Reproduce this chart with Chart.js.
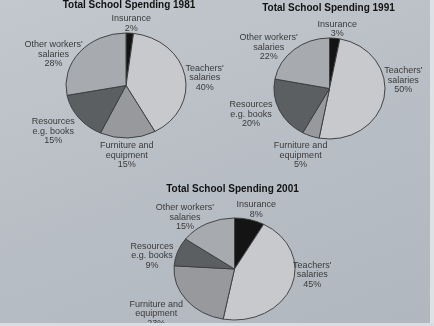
<!DOCTYPE html>
<html>
<head>
<meta charset="utf-8">
<script src="https://cdn.jsdelivr.net/npm/chart.js@4"></script>
<style>
  html, body { margin: 0; padding: 0; }
  body {
    width: 434px; height: 326px; overflow: hidden; position: relative;
    background: linear-gradient(160deg, #c3c8ce 0%, #b7bdc4 55%, #b1b7bf 100%);
  }
  canvas { position: absolute; left: 0; top: 0; }
  .edge-r { position: absolute; right: 0; top: 0; width: 4px; height: 326px; background: #dfe2e5; }
  .edge-b { position: absolute; left: 0; bottom: 0; width: 434px; height: 3px; background: #d9dce0; }
</style>
</head>
<body>
<canvas id="c1981" width="434" height="326"></canvas>
<canvas id="c1991" width="434" height="326"></canvas>
<canvas id="c2001" width="434" height="326"></canvas>
<div class="edge-r"></div>
<div class="edge-b"></div>
<script>
// categories, clockwise from the top
var categories = [
  ['Insurance'],
  ["Teachers'", 'salaries'],
  ['Furniture and', 'equipment'],
  ['Resources', 'e.g. books'],
  ["Other workers'", 'salaries']
];
var spending1981 = [2, 40, 15, 15, 28];
var spending1991 = [3, 50, 5, 20, 22];
var spending2001 = [8, 45, 23, 9, 15];

var sliceColours = ['#141414', '#c7c9cc', '#97999d', '#5c5f62', '#a7aaae'];

// the photo is taken at a slant, so the pies look a bit flattened
var squashPie = {
  id: 'squashPie',
  beforeDatasetsDraw: function(chart, args, opts) {
    var a = chart.getDatasetMeta(0).data[0];
    var ctx = chart.ctx;
    ctx.save();
    ctx.translate(a.x, a.y);
    ctx.scale(1, opts.squash);
    ctx.translate(-a.x, -a.y);
  },
  afterDatasetsDraw: function(chart) {
    chart.ctx.restore();
  }
};

// title and the labels round each pie
var pieText = {
  id: 'pieText',
  afterDraw: function(chart, args, opts) {
    var ctx = chart.ctx;
    var meta = chart.getDatasetMeta(0);
    var data = chart.data.datasets[0].data;
    var sq = chart.options.plugins.squashPie.squash;
    var first = meta.data[0];
    ctx.save();
    ctx.textAlign = 'center';
    ctx.textBaseline = 'middle';

    ctx.fillStyle = '#121212';
    ctx.font = 'bold 10px "Liberation Sans", Arial, sans-serif';
    ctx.fillText(opts.title, first.x + opts.titleShift, first.y - opts.titleOffset);

    ctx.fillStyle = '#3a3a3a';
    ctx.font = '9px "Liberation Sans", Arial, sans-serif';
    var lh = 9.5, gap = 3;
    meta.data.forEach(function(arc, i) {
      var lines = chart.data.labels[i].concat([data[i] + '%']);
      var w = 0;
      lines.forEach(function(t) { w = Math.max(w, ctx.measureText(t).width); });
      var h = lines.length * lh;
      var mid = (arc.startAngle + arc.endAngle) / 2;
      var c = Math.cos(mid), s = Math.sin(mid);
      var nudge = opts.nudge[i];
      var lx = arc.x + c * (arc.outerRadius + gap + w / 2) + nudge[0];
      var ly = arc.y + s * (arc.outerRadius * sq + gap + h / 2) + nudge[1];
      var y0 = ly - (lines.length - 1) * lh / 2;
      lines.forEach(function(t, k) { ctx.fillText(t, lx, y0 + k * lh); });
    });
    ctx.restore();
  }
};

function makePie(id, values, title, cx, cy, radius, squash, titleShift, nudge) {
  var half = 50;
  return new Chart(document.getElementById(id), {
    type: 'pie',
    data: {
      labels: categories,
      datasets: [{
        data: values,
        backgroundColor: sliceColours,
        borderColor: '#3c3c3c',
        borderWidth: 1,
        radius: radius,
        clip: false
      }]
    },
    options: {
      responsive: false,
      animation: false,
      events: [],
      layout: {
        padding: { left: cx - half, right: 434 - cx - half, top: cy - half, bottom: 326 - cy - half }
      },
      plugins: {
        legend: { display: false },
        tooltip: { enabled: false },
        squashPie: { squash: squash },
        pieText: { title: title, titleShift: titleShift, titleOffset: 80, nudge: nudge }
      }
    },
    plugins: [squashPie, pieText]
  });
}

makePie('c1981', spending1981, 'Total School Spending 1981', 126, 85.5, 60, 0.875, 3,
  [[0, 3], [-2, 5.5], [-2, 0], [-6, 3], [-1.5, 13]]);
makePie('c1991', spending1991, 'Total School Spending 1991', 329.5, 88.5, 55.5, 0.91, -1,
  [[0.5, 3], [-2.5, -21], [0, 3], [-6, -3], [-5, 11]]);
makePie('c2001', spending2001, 'Total School Spending 2001', 234.5, 269, 60.5, 0.843, -2,
  [[1, 2], [0, -17.5], [-7, 3], [-2.5, 10], [-7.5, 9]]);
</script>
</body>
</html>
